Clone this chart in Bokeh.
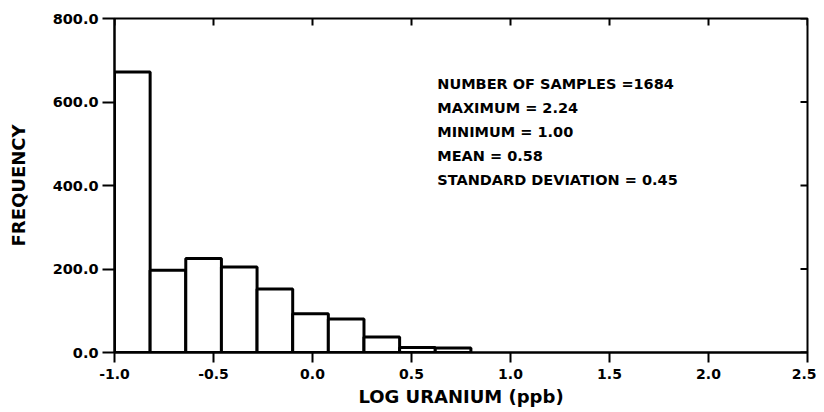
from bokeh.plotting import figure
from bokeh.models import FixedTicker, NumeralTickFormatter, ColumnDataSource, Range1d
from bokeh.core.properties import value
from bokeh.embed import file_html
from bokeh.resources import INLINE

# ---- data ----
bin_edges = [-1.0, -0.82, -0.64, -0.46, -0.28, -0.10, 0.08, 0.26, 0.44, 0.62, 0.80]
counts = [672, 197, 225, 205, 152, 93, 80, 37, 12, 11]
x_ticks = [-1.0, -0.5, 0.0, 0.5, 1.0, 1.5, 2.0, 2.5]
y_ticks = [0, 200, 400, 600, 800]
stats_lines = [
    "NUMBER OF SAMPLES =1684",
    "MAXIMUM  = 2.24",
    "MINIMUM  =  1.00",
    "MEAN = 0.58",
    "STANDARD  DEVIATION = 0.45",
]
x_label = "LOG URANIUM (ppb)"
y_label = "FREQUENCY"

FONT = "DejaVu Sans"
X_MIN, X_MAX = -1.0, 2.5
Y_MIN, Y_MAX = 0, 800

p = figure(width=816, height=410, output_backend="svg", toolbar_location=None,
           x_range=Range1d(X_MIN, X_MAX), y_range=Range1d(Y_MIN, Y_MAX),
           min_border_left=114, min_border_right=9, min_border_top=18, min_border_bottom=58)
p.xgrid.visible = False
p.ygrid.visible = False
p.outline_line_color = "black"
p.outline_line_width = 2
p.background_fill_color = "white"
p.border_fill_color = "white"

src = ColumnDataSource(dict(left=bin_edges[:-1], right=bin_edges[1:],
                            top=counts, bottom=[0] * len(counts)))
p.quad(left="left", right="right", top="top", bottom="bottom", source=src,
       fill_color="white", line_color="black", line_width=3)

# inward ticks on top and right edges, derived from the tick lists
tick_len_x = (X_MAX - X_MIN) * 7 / 693
tick_len_y = (Y_MAX - Y_MIN) * 7 / 334
p.segment(x0=x_ticks, y0=[Y_MAX] * len(x_ticks), x1=x_ticks,
          y1=[Y_MAX - tick_len_y] * len(x_ticks), line_color="black", line_width=2)
p.segment(x0=[X_MAX] * len(y_ticks), y0=y_ticks, x1=[X_MAX - tick_len_x] * len(y_ticks),
          y1=y_ticks, line_color="black", line_width=2)

# stats annotation
ann_y = [644 - i * 57.5 for i in range(len(stats_lines))]
p.text(x=[0.63] * len(stats_lines), y=ann_y, text=stats_lines,
       text_font=value(FONT), text_font_style="bold", text_font_size="14.5px",
       text_baseline="middle", text_align="left", text_color="black")

# bottom axis
xa = p.xaxis[0]
xa.ticker = FixedTicker(ticks=x_ticks)
xa.formatter = NumeralTickFormatter(format="0.0")
xa.minor_tick_line_color = None
xa.major_tick_in = 0
xa.major_tick_out = 10
xa.major_tick_line_width = 2
xa.axis_line_width = 2
xa.major_label_text_font = FONT
xa.major_label_text_font_style = "bold"
xa.major_label_text_font_size = "14px"
xa.major_label_text_color = "black"
xa.major_label_standoff = 6
xa.axis_label = x_label
xa.axis_label_text_font = FONT
xa.axis_label_text_font_style = "bold"
xa.axis_label_text_font_size = "18px"
xa.axis_label_text_color = "black"
xa.axis_label_standoff = 4

# left axis
ya = p.yaxis[0]
ya.ticker = FixedTicker(ticks=y_ticks)
ya.formatter = NumeralTickFormatter(format="0.0")
ya.minor_tick_line_color = None
ya.major_tick_in = 0
ya.major_tick_out = 12
ya.major_tick_line_width = 2
ya.axis_line_width = 2
ya.major_label_text_font = FONT
ya.major_label_text_font_style = "bold"
ya.major_label_text_font_size = "14.5px"
ya.major_label_text_color = "black"
ya.major_label_standoff = 4
ya.axis_label = y_label
ya.axis_label_text_font = FONT
ya.axis_label_text_font_style = "bold"
ya.axis_label_text_font_size = "18px"
ya.axis_label_text_color = "black"
ya.axis_label_standoff = 21

open("out.html", "w").write(file_html(p, INLINE))
